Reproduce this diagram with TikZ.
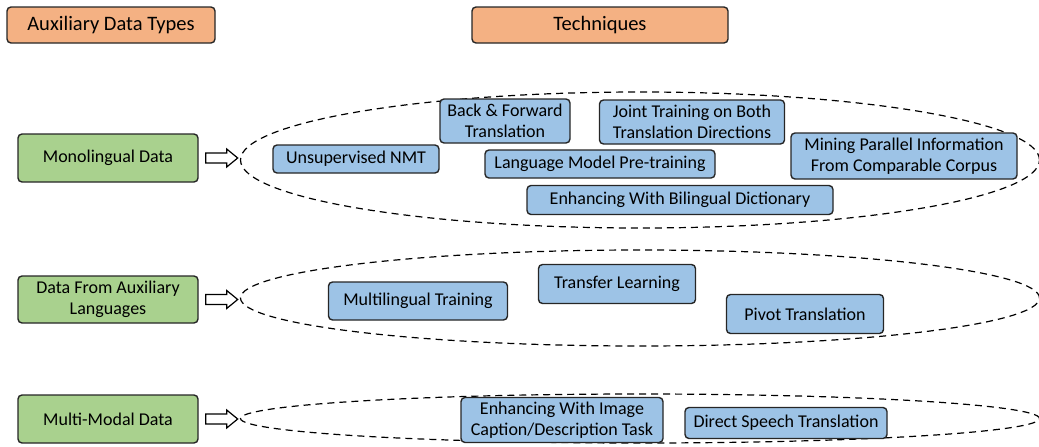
\documentclass[tikz,border=0pt]{standalone}
\usepackage{fontspec}
\setmainfont{Carlito}
\usetikzlibrary{shapes.geometric,calc}
\definecolor{hdr}{HTML}{F4B183}
\definecolor{grn}{HTML}{A9D18E}
\definecolor{blu}{HTML}{9DC3E6}
\definecolor{edge}{HTML}{262626}
\begin{document}
\begin{tikzpicture}[x=1pt,y=-1pt,
  box/.style={draw=edge, line width=1.4pt, rounded corners=4pt, inner sep=0pt, align=center,
              font=\fontsize{18}{21.5}\selectfont, text=black},
  hdrbox/.style={box, fill=hdr, font=\fontsize{20.5}{24}\selectfont},
  srcbox/.style={box, fill=grn},
  techbox/.style={box, fill=blu},
  group/.style={ellipse, draw=black, line width=1.2pt, dash pattern=on 7pt off 5pt, inner sep=0pt},
  hollow/.style={draw=black, line width=1.2pt, fill=white, line join=miter}]
\useasboundingbox (0,0) rectangle (1039,447);

% headers
\node[hdrbox, minimum width=208pt, minimum height=36pt] (hA) at (111,25) {Auxiliary Data Types};
\node[hdrbox, minimum width=256pt, minimum height=36pt] (hT) at (600,25) {Techniques};

% groups
\node[group, minimum width=799pt, minimum height=136pt] (g1) at (640,160) {};
\node[group, minimum width=799pt, minimum height=96pt] (g2) at (640,298) {};
\node[group, minimum width=799pt, minimum height=49pt] (g3) at (640,418.5) {};

% sources
\node[srcbox, minimum width=180pt, minimum height=48pt] (mono) at (108,158) {Monolingual Data};
\node[srcbox, minimum width=180pt, minimum height=47pt] (aux) at (108,299.5) {Data From Auxiliary\\Languages};
\node[srcbox, minimum width=180pt, minimum height=48pt] (mm) at (108,419) {Multi-Modal Data};

% hollow arrows
\foreach \s in {mono,aux,mm}{
  \draw[hollow] ($(\s.east)+(7,-5)$) -- ++(21,0) -- ++(0,-4) -- ++(11,9) -- ++(-11,9) -- ++(0,-4) -- ++(-21,0) -- cycle;
}

% monolingual techniques
\node[techbox, minimum width=166pt, minimum height=28pt] (unmt) at (356,159) {Unsupervised NMT};
\node[techbox, minimum width=130pt, minimum height=44pt] (bft) at (505,121) {Back \& Forward\\Translation};
\node[techbox, minimum width=185pt, minimum height=44pt] (joint) at (692,122) {Joint Training on Both\\Translation Directions};
\node[techbox, minimum width=230pt, minimum height=28pt] (lmp) at (600,164) {Language Model Pre-training};
\node[techbox, minimum width=226pt, minimum height=46pt] (mine) at (904,156) {Mining Parallel Information\\From Comparable Corpus};
\node[techbox, minimum width=306pt, minimum height=29pt] (dict) at (680,200) {Enhancing With Bilingual Dictionary};

% auxiliary language techniques
\node[techbox, minimum width=179pt, minimum height=38pt] (multi) at (418,301) {Multilingual Training};
\node[techbox, minimum width=157pt, minimum height=39pt] (trans) at (617,284) {Transfer Learning};
\node[techbox, minimum width=157pt, minimum height=39pt] (pivot) at (805,314) {Pivot Translation};

% multi-modal techniques
\node[techbox, minimum width=202pt, minimum height=45pt] (img) at (562,420) {Enhancing With Image\\Caption/Description Task};
\node[techbox, minimum width=202pt, minimum height=31pt] (speech) at (786,423) {Direct Speech Translation};
\end{tikzpicture}
\end{document}
